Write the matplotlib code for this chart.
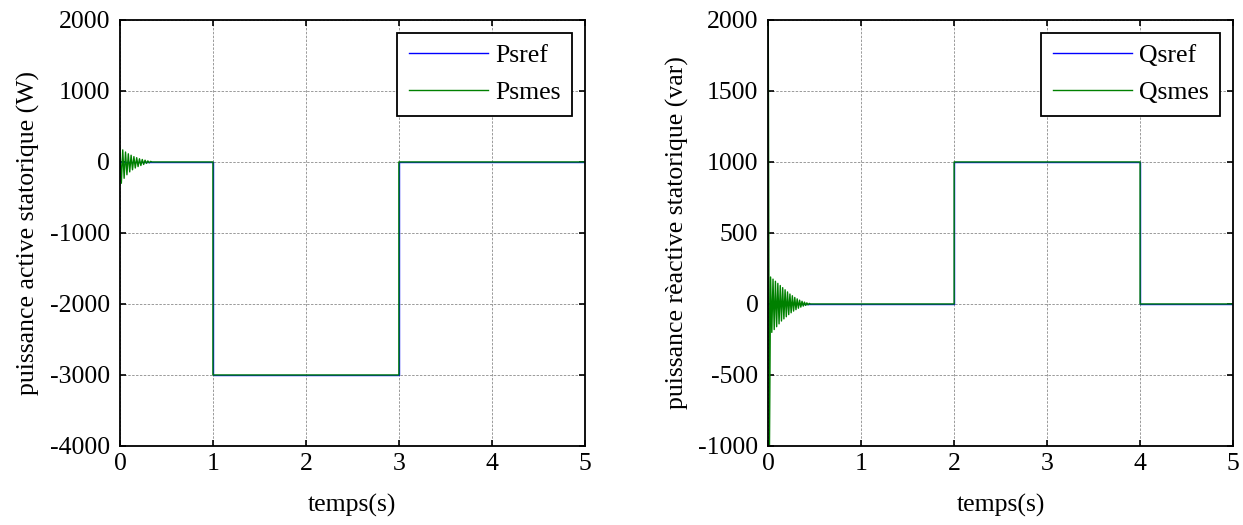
import numpy as np
import matplotlib
matplotlib.use("Agg")
import matplotlib.pyplot as plt

plt.rcParams['font.family'] = ['Liberation Serif', 'DejaVu Serif']
plt.rcParams['axes.unicode_minus'] = False

# Step references (time in s, value)
p_ref_t = [0, 1, 1, 3, 3, 5]
p_ref_v = [0, 0, -3000, -3000, 0, 0]
q_ref_t = [0, 2, 2, 4, 4, 5]
q_ref_v = [0, 0, 1000, 1000, 0, 0]

# Start-up transient of the measured powers: signed peaks at a fixed step
p_trans_v = [200, -300, 170, -230, 140, -180, 115, -140, 95, -110, 75, -85,
             60, -65, 45, -50, 35, -35, 25, -20, 15, -12, 8, 0]
p_trans_dt = 0.015
q_trans_v = [2200, -1100, 190, -200, 175, -180, 160, -160, 145, -140, 130, -120,
             115, -105, 100, -90, 85, -75, 70, -62, 58, -50, 46, -40, 36, -30,
             27, -22, 19, -15, 13, -10, 8, -6, 4, 0]
q_trans_dt = 0.013

p_tick_y = [-4000, -3000, -2000, -1000, 0, 1000, 2000]
q_tick_y = [-1000, -500, 0, 500, 1000, 1500, 2000]
x_ticks = [0, 1, 2, 3, 4, 5]


def measured(ref_t, ref_v, trans_v, dt):
    t = [i * dt for i in range(len(trans_v))]
    t_end = t[-1]
    t_rest = [x for x in ref_t if x > t_end]
    v_rest = [v for x, v in zip(ref_t, ref_v) if x > t_end]
    return t + t_rest, list(trans_v) + v_rest


fig = plt.figure(figsize=(12.43, 5.25), dpi=100)
ax1 = fig.add_axes([0.0965, 0.1505, 0.374, 0.8115])
ax2 = fig.add_axes([0.618, 0.1505, 0.374, 0.8115])

panels = [
    (ax1, p_ref_t, p_ref_v, p_trans_v, p_trans_dt, 'Psref', 'Psmes',
     'puissance active statorique (W)', (-4000, 2000), p_tick_y),
    (ax2, q_ref_t, q_ref_v, q_trans_v, q_trans_dt, 'Qsref', 'Qsmes',
     'puissance rèactive statorique (var)', (-1000, 2000), q_tick_y),
]

for ax, rt, rv, tv, dt, lref, lmes, ylab, ylim, yt in panels:
    mt, mv = measured(rt, rv, tv, dt)
    ax.plot(rt, rv, color=(0, 0, 1), lw=1.0, label=lref)
    ax.plot(mt, mv, color=(0, 0.5, 0), lw=1.0, label=lmes)
    ax.set_xlim(0, 5)
    ax.set_ylim(*ylim)
    ax.set_xticks(x_ticks)
    ax.set_yticks(yt)
    ax.grid(True, color='#9a9a9a', linestyle=(0, (2.5, 1.5)), linewidth=0.7)
    ax.tick_params(direction='in', length=4, width=1.2, top=True, right=True,
                   labelsize=18.5)
    ax.tick_params(axis='y', pad=7)
    ax.tick_params(axis='x', pad=5)
    for s in ax.spines.values():
        s.set_linewidth(1.3)
    ax.set_xlabel('temps(s)', fontsize=18.5, labelpad=14)
    ax.set_ylabel(ylab, fontsize=18.5, labelpad=7)
    leg = ax.legend(loc='upper right', fontsize=18.5, handlelength=3.1,
                    fancybox=False, framealpha=1, edgecolor='black',
                    borderaxespad=0.5, handletextpad=0.25, labelspacing=0.55,
                    borderpad=0.45)
    leg.get_frame().set_linewidth(1.3)

fig.savefig('out.png', dpi=100, facecolor='white')
